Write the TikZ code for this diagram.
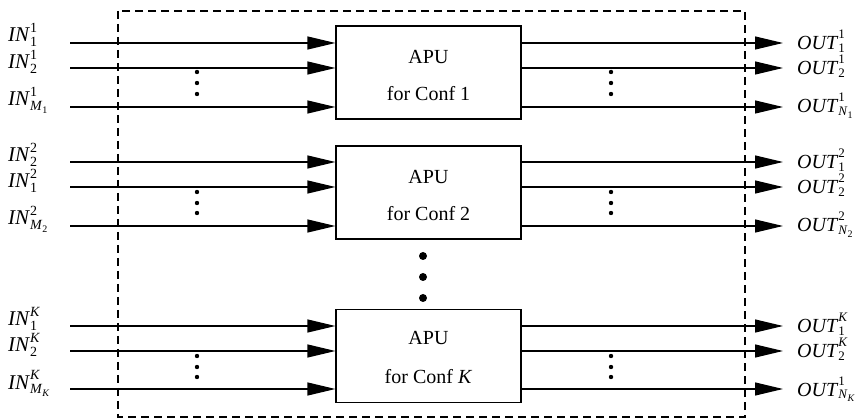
\documentclass[tikz,border=0pt]{standalone}
\usepackage{fontspec}
\setmainfont{Liberation Serif}
\usetikzlibrary{arrows.meta}

% label: italic name with superscript and subscript stacked
% #1 name, #2 superscript, #3 subscript, #4 raise of superscript, #5 drop of subscript, #6 script size
\newcommand\sigsym[6]{\textit{#1}\makebox[0pt][l]{\raisebox{#4}{\fontsize{#6}{#6}\selectfont #2}}\raisebox{-#5}{\fontsize{#6}{#6}\selectfont #3}}
\newcommand\insig[3]{\sigsym{#1}{#2}{#3}{0.43em}{0.2em}{14}}
\newcommand\outsig[3]{\sigsym{#1}{#2}{#3}{0.55em}{0.12em}{13}}
\newcommand\subidx[2]{\textit{#1}\raisebox{-0.25em}{\fontsize{10}{10}\selectfont #2}}

\begin{document}
\begin{tikzpicture}[x=1pt,y=-1pt,
  apubox/.style={draw,line width=1.2pt,minimum width=185pt,minimum height=93pt,inner sep=0pt},
  sig/.style={line width=1.2pt,-{Triangle[length=28pt,width=13pt]}},
  inlabel/.style={anchor=base west,inner sep=0pt,font=\fontsize{21}{24}\selectfont},
  outlabel/.style={anchor=base west,inner sep=0pt,font=\fontsize{20}{24}\selectfont},
  boxtext/.style={font=\fontsize{20}{24}\selectfont,inner sep=0pt},
  smalldot/.style={circle,fill,inner sep=0pt,minimum size=4.4pt},
  bigdot/.style={circle,fill,inner sep=0pt,minimum size=8pt}]
\useasboundingbox (0,0) rectangle (862,419);

% enclosing dashed frame
\draw[line width=1.2pt,dash pattern=on 8pt off 5pt] (118,11) rectangle (745,417);

% processing units
\node[apubox] (a1) at (428.5,72.5) {};
\node[apubox] (a2) at (428.5,192.5) {};
\node[apubox] (aK) at (428.5,356) {};
\node[boxtext] at (428.5,57) {APU};
\node[boxtext] at (428.5,94) {for Conf 1};
\node[boxtext] at (428.5,177) {APU};
\node[boxtext] at (428.5,214) {for Conf 2};
\node[boxtext] at (428.5,338) {APU};
\node[boxtext] at (428.5,377) {for Conf \textit{K}};

% signal rows: unit, row index, y position
\foreach \u/\r/\y in {a1/1/43,a1/2/68,a1/3/107,a2/1/162,a2/2/187,a2/3/226,aK/1/326,aK/2/351,aK/3/389}{
  \coordinate (in-\u-\r) at (70,\y);
  \coordinate (out-\u-\r) at (783,\y);
  \draw[sig] (in-\u-\r) -- (in-\u-\r -| \u.west);
  \draw[sig] (out-\u-\r -| \u.east) -- (out-\u-\r);
}

% input labels
\node[inlabel] at (8,42) {\insig{IN}{1}{1}};
\node[inlabel] at (8,69) {\insig{IN}{1}{2}};
\node[inlabel] at (8,106) {\insig{IN}{1}{\subidx{M}{1}}};
\node[inlabel] at (8,162) {\insig{IN}{2}{2}};
\node[inlabel] at (8,188) {\insig{IN}{2}{1}};
\node[inlabel] at (8,225) {\insig{IN}{2}{\subidx{M}{2}}};
\node[inlabel] at (8,326) {\insig{IN}{\textit{K}}{1}};
\node[inlabel] at (8,352) {\insig{IN}{\textit{K}}{2}};
\node[inlabel] at (8,389) {\insig{IN}{\textit{K}}{\subidx{M}{\textit{K}}}};

% output labels
\node[outlabel] at (797,50) {\outsig{OUT}{1}{1}};
\node[outlabel] at (797,75) {\outsig{OUT}{1}{2}};
\node[outlabel] at (797,113) {\outsig{OUT}{1}{\subidx{N}{1}}};
\node[outlabel] at (797,169) {\outsig{OUT}{2}{1}};
\node[outlabel] at (797,194) {\outsig{OUT}{2}{2}};
\node[outlabel] at (797,232) {\outsig{OUT}{2}{\subidx{N}{2}}};
\node[outlabel] at (797,333) {\outsig{OUT}{\textit{K}}{1}};
\node[outlabel] at (797,358) {\outsig{OUT}{\textit{K}}{2}};
\node[outlabel] at (797,396) {\outsig{OUT}{1}{\subidx{N}{\textit{K}}}};

% vertical ellipses between signal rows
\foreach \x in {197,611}{
  \foreach \y in {72,83,94,192,203,213,356,367,377}{
    \node[smalldot] at (\x,\y) {};
  }
}
% ellipsis between unit 2 and unit K
\foreach \y in {256,277,298}{
  \node[bigdot] at (423,\y) {};
}
\end{tikzpicture}
\end{document}
